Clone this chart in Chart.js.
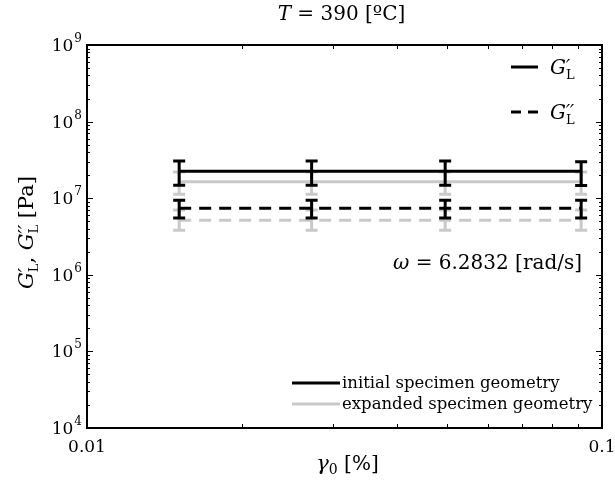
<!DOCTYPE html>
<html>
<head>
<meta charset="utf-8">
<script src="https://cdn.jsdelivr.net/npm/chart.js@4"></script>
<style>
  html, body { margin: 0; padding: 0; background: #fff; }
  #wrap { width: 615px; height: 482px; }
</style>
</head>
<body>
<div id="wrap"><canvas id="modulusChart" width="615" height="482"></canvas></div>
<script>
// strain amplitude [%]
const xStrain = [0.0151, 0.0273, 0.0496, 0.0911];

// initial specimen geometry
const initStorage = [2.25e7, 2.25e7, 2.25e7, 2.24e7];
const initStorageLow = [1.48e7, 1.48e7, 1.48e7, 1.47e7];
const initStorageHigh = [3.05e7, 3.05e7, 3.05e7, 3.0e7];
const initLoss = [7.4e6, 7.4e6, 7.4e6, 7.4e6];
const initLossLow = [5.5e6, 5.5e6, 5.5e6, 5.5e6];
const initLossHigh = [9.4e6, 9.4e6, 9.4e6, 9.4e6];

// expanded specimen geometry
const expStorage = [1.64e7, 1.64e7, 1.64e7, 1.64e7];
const expStorageLow = [1.13e7, 1.13e7, 1.13e7, 1.13e7];
const expStorageHigh = [2.2e7, 2.2e7, 2.2e7, 2.2e7];
const expLoss = [5.16e6, 5.16e6, 5.16e6, 5.16e6];
const expLossLow = [3.82e6, 3.82e6, 3.82e6, 3.82e6];
const expLossHigh = [7.0e6, 7.0e6, 7.0e6, 7.0e6];

const yTickExp = [4, 5, 6, 7, 8, 9];
const xTickValues = [0.01, 0.1];
const xTickLabels = ['0.01', '0.1'];

const BLACK = '#000000';
const GREY = '#c9c9c9';
const serif = '"DejaVu Serif", serif';
const F = (size, italic) => (italic ? 'italic ' : '') + size + 'px ' + serif;

const pts = (ys) => xStrain.map((x, i) => ({ x: x, y: ys[i] }));

// draws a row of text pieces; a piece with "sub" stacks a subscript under it
function drawRuns(ctx, runs, x, y, align) {
  const widths = runs.map(r => {
    ctx.font = r.font;
    let w = ctx.measureText(r.t).width;
    if (r.sub !== undefined) {
      ctx.font = r.subFont;
      w = Math.max(w, ctx.measureText(r.sub).width);
    }
    return w + (r.pad || 0);
  });
  const total = widths.reduce((a, b) => a + b, 0);
  let cx = align === 'center' ? x - total / 2 : align === 'right' ? x - total : x;
  ctx.textAlign = 'left';
  ctx.textBaseline = 'alphabetic';
  runs.forEach((r, i) => {
    ctx.font = r.font;
    ctx.fillText(r.t, cx, y + (r.dy || 0));
    if (r.sub !== undefined) {
      ctx.font = r.subFont;
      ctx.fillText(r.sub, cx, y + r.subDy);
    }
    cx += widths[i];
  });
}

// G with primes on top and an upright L below
const gPrime = (size, primes) => [
  { t: 'G', font: F(size, true), pad: 0 },
  { t: primes, font: F(Math.round(size * 0.9), true), dy: -1,
    sub: 'L', subFont: F(Math.round(size * 0.64)), subDy: size * 0.26 }
];

const errorBars = {
  id: 'errorBars',
  afterDatasetDraw(chart, args) {
    const ds = chart.data.datasets[args.index];
    if (!ds.errLow) return;
    const ctx = chart.ctx;
    const xs = chart.scales.x, ys = chart.scales.y;
    ctx.save();
    ctx.strokeStyle = ds.borderColor;
    ctx.lineWidth = 3;
    ctx.setLineDash([]);
    ds.data.forEach((p, i) => {
      const px = xs.getPixelForValue(p.x);
      const lo = ys.getPixelForValue(ds.errLow[i]);
      const hi = ys.getPixelForValue(ds.errHigh[i]);
      ctx.beginPath();
      ctx.moveTo(px, lo); ctx.lineTo(px, hi);
      ctx.moveTo(px - 6, lo); ctx.lineTo(px + 6, lo);
      ctx.moveTo(px - 6, hi); ctx.lineTo(px + 6, hi);
      ctx.stroke();
    });
    ctx.restore();
  }
};

const frameAndText = {
  id: 'frameAndText',
  afterDraw(chart) {
    const ctx = chart.ctx;
    const a = chart.chartArea;
    const xs = chart.scales.x, ys = chart.scales.y;
    ctx.save();
    ctx.fillStyle = BLACK;
    ctx.strokeStyle = BLACK;

    // ticks, pointing inward on all four sides
    ctx.lineWidth = 1;
    ctx.beginPath();
    for (let e = 4; e < 9; e++) {
      for (let m = 1; m <= 9; m++) {
        const py = Math.round(ys.getPixelForValue(m * Math.pow(10, e))) + 0.5;
        const len = m === 1 ? 6 : 3;
        ctx.moveTo(a.left, py); ctx.lineTo(a.left + len, py);
        ctx.moveTo(a.right, py); ctx.lineTo(a.right - len, py);
      }
    }
    for (let m = 2; m <= 9; m++) {
      const px = Math.round(xs.getPixelForValue(m / 100)) + 0.5;
      ctx.moveTo(px, a.bottom); ctx.lineTo(px, a.bottom - 4);
      ctx.moveTo(px, a.top); ctx.lineTo(px, a.top + 4);
    }
    ctx.stroke();

    // box
    ctx.lineWidth = 2;
    ctx.strokeRect(a.left, a.top, a.right - a.left, a.bottom - a.top);

    // y tick labels 10^n
    yTickExp.forEach(e => {
      const py = ys.getPixelForValue(Math.pow(10, e));
      ctx.font = F(12);
      const ew = ctx.measureText(String(e)).width;
      ctx.textAlign = 'right';
      ctx.textBaseline = 'alphabetic';
      ctx.font = F(17);
      ctx.fillText('10', a.left - 14 - ew + 8, py + 6);
      ctx.font = F(12);
      ctx.textAlign = 'left';
      ctx.fillText(String(e), a.left - 14 + 8 - ew + 1, py - 3);
    });

    // x tick labels
    ctx.font = F(17);
    ctx.textAlign = 'center';
    xTickValues.forEach((v, i) => {
      ctx.fillText(xTickLabels[i], xs.getPixelForValue(v), a.bottom + 24);
    });

    // title
    drawRuns(ctx, [
      { t: 'T', font: F(20, true) },
      { t: ' = 390 [ºC]', font: F(20) }
    ], (a.left + a.right) / 2 - 3, 20, 'center');

    // x axis title
    drawRuns(ctx, [
      { t: 'γ', font: F(21, true) },
      { t: '0', font: F(14), dy: 4 },
      { t: ' [%]', font: F(20) }
    ], (a.left + a.right) / 2 + 3, 470, 'center');

    // y axis title
    ctx.save();
    ctx.translate(33, (a.top + a.bottom) / 2 - 4);
    ctx.rotate(-Math.PI / 2);
    drawRuns(ctx, [].concat(
      gPrime(21, '′'),
      [{ t: ', ', font: F(21) }],
      gPrime(21, '′′'),
      [{ t: ' [Pa]', font: F(21) }]
    ), 0, 0, 'center');
    ctx.restore();

    // frequency note
    drawRuns(ctx, [
      { t: 'ω', font: F(20, true) },
      { t: ' = 6.2832 [rad/s]', font: F(20) }
    ], 582, 269, 'right');

    // modulus legend
    ctx.lineWidth = 3;
    ctx.strokeStyle = BLACK;
    ctx.beginPath();
    ctx.moveTo(511, 67); ctx.lineTo(538, 67);
    ctx.stroke();
    ctx.setLineDash([10, 7]);
    ctx.beginPath();
    ctx.moveTo(511, 112); ctx.lineTo(538, 112);
    ctx.stroke();
    ctx.setLineDash([]);
    drawRuns(ctx, gPrime(20, '′'), 550, 74, 'left');
    drawRuns(ctx, gPrime(20, '′′'), 550, 119, 'left');

    // geometry legend
    ctx.strokeStyle = BLACK;
    ctx.beginPath();
    ctx.moveTo(292, 383); ctx.lineTo(340, 383);
    ctx.stroke();
    ctx.strokeStyle = GREY;
    ctx.beginPath();
    ctx.moveTo(292, 404); ctx.lineTo(340, 404);
    ctx.stroke();
    ctx.fillStyle = BLACK;
    ctx.font = F(16.5);
    ctx.textAlign = 'left';
    ctx.fillText('initial specimen geometry', 342, 388);
    ctx.fillText('expanded specimen geometry', 342, 409);

    ctx.restore();
  }
};

const line = (label, ys, lo, hi, color, dash) => ({
  label: label,
  data: pts(ys),
  errLow: lo,
  errHigh: hi,
  showLine: true,
  borderColor: color,
  backgroundColor: color,
  borderWidth: 3,
  borderDash: dash,
  pointRadius: 0,
  fill: false
});

new Chart(document.getElementById('modulusChart'), {
  type: 'scatter',
  data: {
    datasets: [
      line("G'L initial", initStorage, initStorageLow, initStorageHigh, BLACK, []),
      line("G''L initial", initLoss, initLossLow, initLossHigh, BLACK, [12, 8]),
      line("G'L expanded", expStorage, expStorageLow, expStorageHigh, GREY, []),
      line("G''L expanded", expLoss, expLossLow, expLossHigh, GREY, [12, 8])
    ]
  },
  options: {
    responsive: false,
    animation: false,
    devicePixelRatio: 1,
    layout: { padding: { left: 87, right: 13, top: 45, bottom: 54 } },
    scales: {
      x: { type: 'logarithmic', min: 0.01, max: 0.1, display: false },
      y: { type: 'logarithmic', min: 1e4, max: 1e9, display: false }
    },
    plugins: {
      legend: { display: false },
      tooltip: { enabled: false }
    }
  },
  plugins: [errorBars, frameAndText]
});
</script>
</body>
</html>
